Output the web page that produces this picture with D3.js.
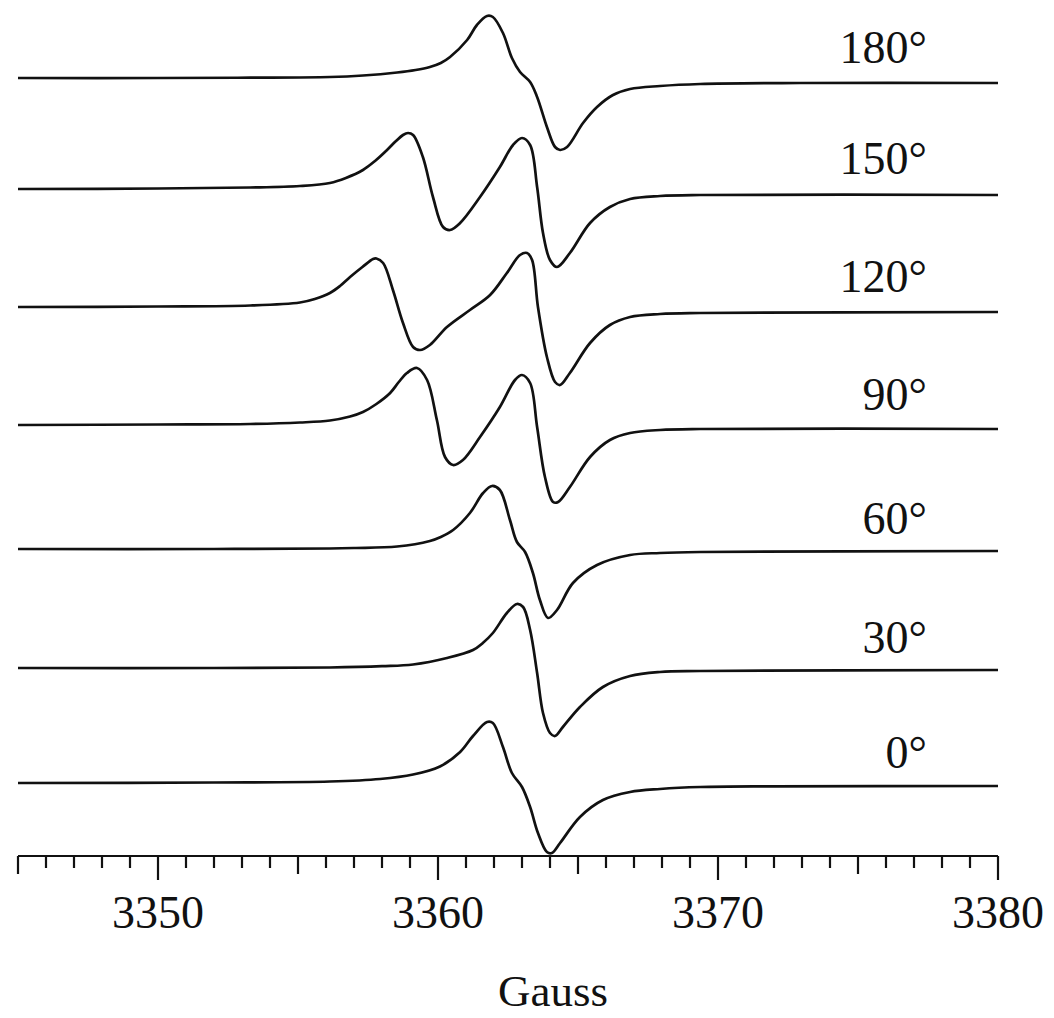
<!DOCTYPE html>
<html>
<head>
<meta charset="utf-8">
<script src="https://cdn.jsdelivr.net/npm/d3@7"></script>
<style>
body { margin: 0; background: #fff; }
text { font-family: "Liberation Serif", "DejaVu Serif", serif; fill: #111; }
</style>
</head>
<body>
<div id="chart"></div>
<script>
// EPR spectra at different rotation angles, bottom trace first.
var angles = ["0°", "30°", "60°", "90°", "120°", "150°", "180°"];
var offsets = [0, 115, 234, 358, 476, 594, 705]; // baseline of each trace (a.u.)

// [field (G), signal (a.u.)]
var trace0 = [[3345,0],[3352,0.5],[3356.14,1.5],[3357.93,4],[3359.11,8.5],[3360.07,16.5],[3360.79,31],[3361.25,47],[3361.75,61],[3361.96,60],[3362.32,36],[3362.64,10],[3363.0,-4],[3363.29,-24],[3363.57,-50],[3363.89,-69],[3364.07,-70],[3364.36,-60],[3365.07,-34],[3365.89,-17],[3366.86,-9],[3367.93,-6],[3369.36,-4],[3372,-3.3],[3380,-3]];
var trace30 = [[3345,0],[3352,0],[3356.14,0.5],[3358,1.8],[3359.11,3.5],[3360.32,10],[3361.25,18],[3361.6,25],[3361.96,35],[3362.46,55],[3362.82,64],[3363.04,61],[3363.29,38],[3363.54,-5],[3363.75,-45],[3364.0,-65],[3364.18,-68],[3364.46,-59],[3365.07,-39],[3365.89,-19],[3366.86,-8],[3367.93,-4],[3369.36,-3],[3380,-2]];
var trace60 = [[3345,0],[3352,0],[3356.14,0.5],[3357.0,1],[3358.54,2.5],[3359.71,8],[3360.1,12],[3360.54,19],[3361.14,36],[3361.61,56],[3361.93,63],[3362.21,59],[3362.57,29],[3362.82,7],[3363.11,-3],[3363.39,-24],[3363.64,-51],[3363.93,-69],[3364.25,-61],[3364.82,-34],[3365.68,-16],[3366.86,-6],[3367.93,-4],[3369.36,-3],[3380,-2]];
var trace90 = [[3345,0],[3350,0.5],[3353.29,1],[3355.07,2.5],[3356.14,4.5],[3356.86,8.5],[3357.32,13],[3357.8,21],[3358.29,32],[3358.6,43],[3358.89,52],[3359.25,57],[3359.61,45],[3359.96,5],[3360.25,-32],[3360.54,-40],[3360.89,-35],[3361.5,-12],[3362.21,18],[3362.75,45],[3363.0,50],[3363.29,42],[3363.54,-2],[3363.82,-52],[3364.11,-77],[3364.29,-77],[3364.71,-62],[3365.43,-32],[3366.14,-15],[3366.86,-8],[3367.93,-5],[3369.36,-4],[3380,-4]];
var trace120 = [[3345,0],[3350,0.5],[3353.29,1.5],[3355.07,4.5],[3355.6,8],[3356.14,14],[3356.5,21],[3356.86,30],[3357.3,40],[3357.68,48],[3357.8,48.5],[3358.04,44],[3358.39,17],[3358.75,-16],[3359.11,-40],[3359.36,-43],[3359.71,-38],[3360.32,-20],[3361.14,-3],[3361.86,12],[3362.46,34],[3362.93,52],[3363.18,54],[3363.36,47],[3363.57,0],[3363.89,-50],[3364.18,-75],[3364.36,-78],[3364.71,-66],[3365.43,-36],[3366.14,-18],[3366.86,-10],[3367.93,-7],[3369.36,-6],[3380,-5]];
var trace150 = [[3345,0],[3350,0.5],[3353.29,1.5],[3355.07,3],[3356.14,6],[3356.71,11],[3357.32,19],[3357.75,28],[3358.18,39],[3358.5,48],[3358.75,54],[3358.93,56],[3359.11,54],[3359.46,32],[3359.82,-8],[3360.18,-38],[3360.43,-41],[3360.79,-34],[3361.5,-8],[3362.21,22],[3362.68,44],[3363.0,51],[3363.29,44],[3363.54,2],[3363.75,-44],[3364.0,-71],[3364.25,-78],[3364.71,-64],[3365.43,-34],[3366.14,-18],[3366.86,-10],[3367.93,-7],[3369.36,-6],[3380,-6]];
var trace180 = [[3345,0],[3350,0],[3353.3,0.3],[3356.14,1],[3357.32,2.5],[3358.54,5.5],[3359.2,8],[3359.71,11],[3360.1,15],[3360.43,21],[3361.04,38],[3361.39,53],[3361.75,62],[3361.96,61],[3362.32,45],[3362.64,20],[3362.93,6],[3363.29,-4],[3363.54,-19],[3363.89,-49],[3364.18,-69],[3364.36,-72],[3364.61,-69],[3365.18,-45],[3365.68,-29],[3366.25,-17],[3366.86,-11],[3367.93,-8],[3369.36,-6],[3372.93,-5],[3380,-5]];

var traces = [trace0, trace30, trace60, trace90, trace120, trace150, trace180];
var tickLabels = [3350, 3360, 3370, 3380];

function drawChart(visId) {
    var width = 1054, height = 1018;
    var axisY = 856; // position of the field axis

    var svg = d3.select('#' + visId).append("svg")
        .attr("width", width)
        .attr("height", height);

    var x = d3.scaleLinear().domain([3345, 3380]).range([18, 998]);
    var y = d3.scaleLinear().domain([0, 705]).range([783, 78]);

    var line = d3.line()
        .x(d => x(d[0]))
        .y(d => y(d[1]))
        .curve(d3.curveCatmullRom.alpha(0.5));

    // one path per angle, shifted up by its offset
    traces.forEach(function (tr, i) {
        var pts = tr.map(d => [d[0], d[1] + offsets[i]]);
        svg.append("path")
            .attr("d", line(pts))
            .attr("fill", "none")
            .attr("stroke", "#111")
            .attr("stroke-width", 2.7)
            .attr("stroke-linejoin", "round");

        svg.append("text")
            .attr("x", 927)
            .attr("y", y(offsets[i]) - 15)
            .attr("text-anchor", "end")
            .attr("font-size", 46)
            .text(angles[i]);
    });

    // field axis: long ticks every 10 G, medium every 5 G, short every 1 G
    svg.append("line")
        .attr("x1", x(3345)).attr("x2", x(3380))
        .attr("y1", axisY).attr("y2", axisY)
        .attr("stroke", "#111").attr("stroke-width", 2.2);

    svg.selectAll(".tick")
        .data(d3.range(3345, 3381, 1))
        .enter().append("line")
        .attr("class", "tick")
        .attr("x1", d => x(d)).attr("x2", d => x(d))
        .attr("y1", axisY)
        .attr("y2", d => axisY + (d % 10 === 0 ? 24 : d % 5 === 0 ? 18 : 12))
        .attr("stroke", "#111").attr("stroke-width", 2.2);

    svg.selectAll(".ticklabel")
        .data(tickLabels)
        .enter().append("text")
        .attr("class", "ticklabel")
        .attr("x", d => x(d))
        .attr("y", 928)
        .attr("text-anchor", "middle")
        .attr("font-size", 46)
        .text(d => d);

    svg.append("text")
        .attr("x", 553)
        .attr("y", 1006)
        .attr("text-anchor", "middle")
        .attr("font-size", 45)
        .text("Gauss");
}

drawChart('chart');
</script>
</body>
</html>
